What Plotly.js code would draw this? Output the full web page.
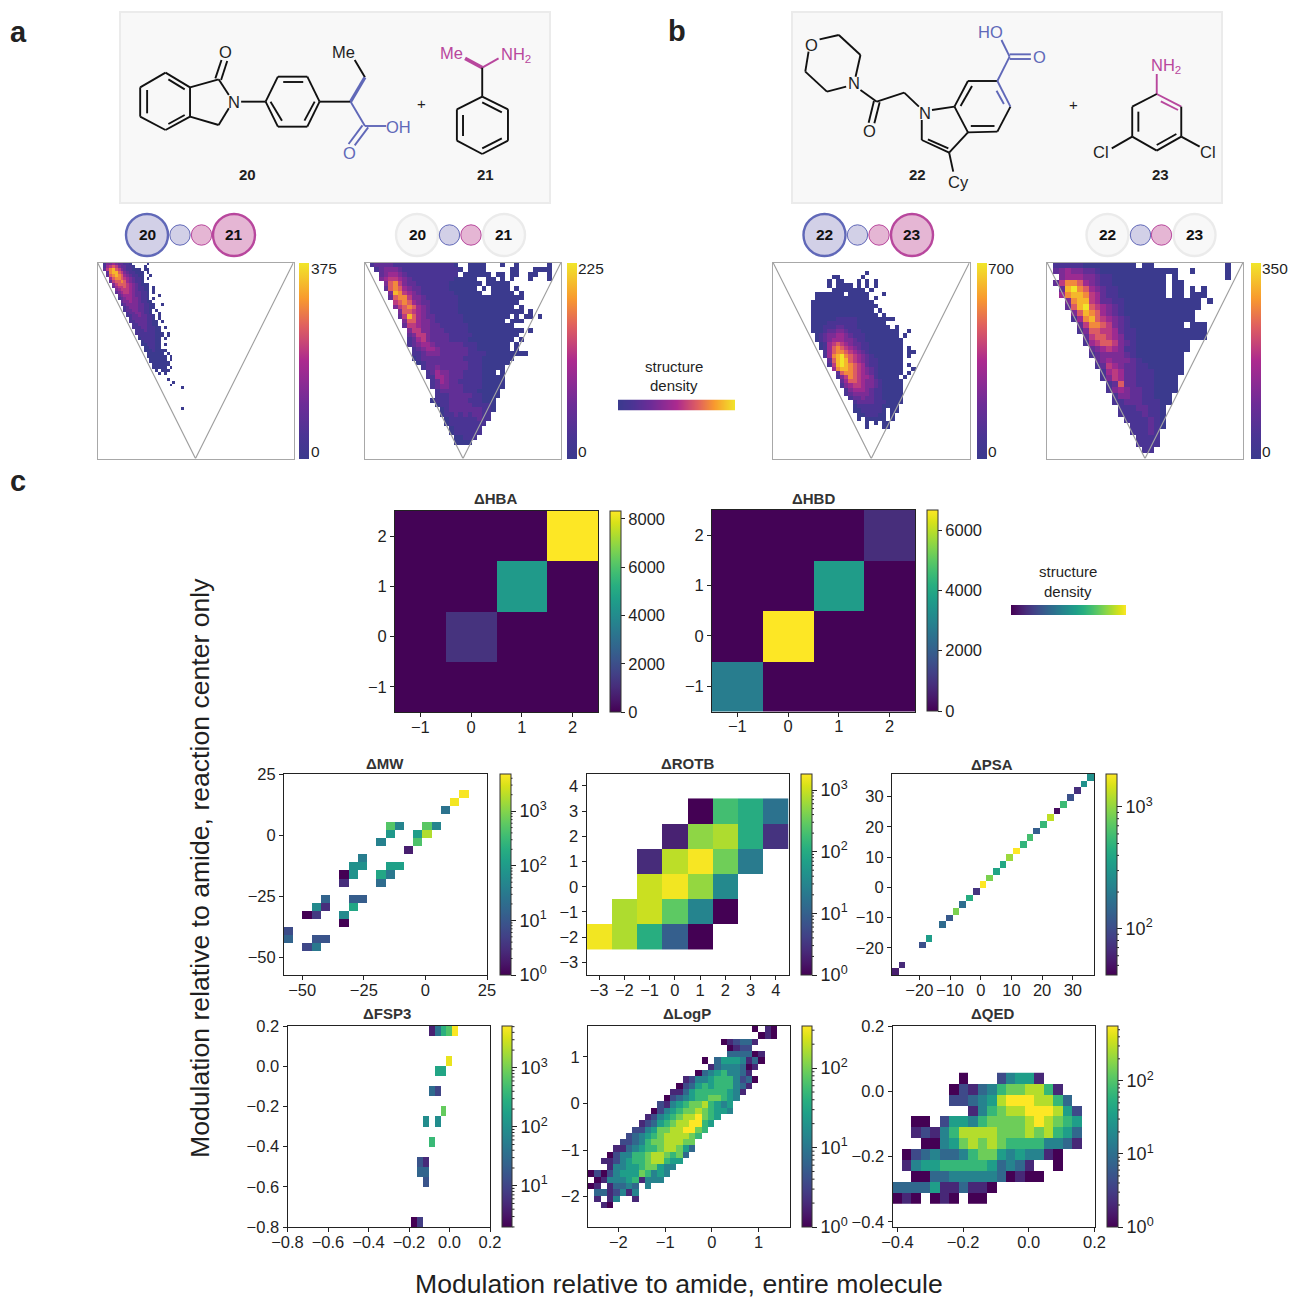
<!DOCTYPE html>
<html><head><meta charset="utf-8">
<script src="https://cdn.plot.ly/plotly-3.0.1.min.js"></script>
<style>html,body{margin:0;padding:0;background:#fff}#chart{width:1289px;height:1299px}</style>
</head><body><div id="chart"></div>
<script>
// ---------- density levels ('.' = empty bin, 0-9 = colour level), top row first
const densA1 = [
"..1334322110.....0",
"..14565322110...0",
"..2578653211000.00",
"...2788653211000.0",
"...2678764321100..0",
"....467765432110.0",
"....256676432110",
".....3566654321000",
".....2455654321100.0",
"......345554321100.0",
"......234554322110.0",
".......23444322110...0",
".......12344332110.0",
"........23343321100",
"........123333221100..0",
".........12333221100",
".........1223322110.0",
"..........122332110..0",
"..........1122322110.0",
"...........122222110.0",
"...........1122221100.0",
"............112221100",
"............1112211100.0",
".............111211100",
".............1111111000.0",
"..............111111000.0",
"..............01111100.0",
"...............0111100",
"...............0011100.0",
"................001100",
"................00010000",
".................000000.0",
".................0000000.0",
"..................000000.0",
"..................0000000",
"...................000000",
"...................00000.0",
"....................0.000",
".....................0.0",
"",
"........................0",
"..........................0",
".........................0",
".............................0",
"","","","","","",
".............................0"];
const densA2 = [
".122221111 1111111110 ..0000...0 ..0......0",
"..12333211 1111111111 0.0000.... .00...0000",
"...2344321 1111111111 .000000.00 .00..00..0",
"...3455432 1111111110 0000..00.0 .0...0...0",
"....367532 2111111100 00000.0000 0.........",
"....267643 2211111100 0000.0.000 0.0.......",
".....38754 3211111110 00000..000 00.0......",
".....26775 3321111111 0000000000 0000......",
"......5676 4322111111 0000000000 000.......",
"......3567 6432111111 0000000000 00.0......",
".......366 5432111111 0000000000 0000.0....",
".......258 6432211111 1000000000 0.0.00.0..",
"........36 6433211111 1000000000 .000......",
"........25 5433221111 1100000000 00........",
".........3 5533222111 1100000000 0000.0....",
".........2 3553222211 1110000000 000.......",
".........1 2453222211 1100000000 00.0......",
".........1 2344322222 2111000000 0.0.......",
".......... 1234432222 2211000000 0.0.......",
".......... 1123332222 2211110000 00000.....",
".......... 0122222222 2111100000 00........",
".......... .012222222 2211100000 0.........",
".......... ..12232222 2211100000 ..........",
".......... ...1243322 21111000.0 ..........",
".......... ...1144322 2111100000 ..........",
".......... ....124322 1111100000 ..........",
".......... ....123322 2111100000 ..........",
".......... .....12222 211100000. ..........",
".......... .....11122 222110000. ..........",
".......... ....011122 22111000.. ..........",
".......... .....01122 22211110.. ..........",
".......... ......0122 22222110.. ..........",
".......... ......0112 1212211... ..........",
".......... .......011 1111211... ..........",
".......... .......011 111111.... ..........",
".......... ........01 11111..... ..........",
".......... ........01 11111..... ..........",
".......... .........0 0111...... ..........",
".......... .........0 000......."];
const densB1 = ["","",
".......... .......... ..0",
".......... ....00.... .0",
".......... ...0.00... 0.0.0",
".......... ...0.0000. 0.0.0",
".......... ....000000 00.0",
".......... 0000000.00 000...0",
".......... 0000000000 000.0",
".........0 0000000000 0000",
".........0 0000000000 00000",
".........0 0000000000 0000.0",
".........0 0000000000 00000.0",
".........0 0000011111 000000000",
".........0 0001111111 0000000",
".........0 0011122111 00000000.0",
".........0 0012233211 1000000000 ..0",
".......... 0123344321 1100000000 .0",
".......... 0123444332 1100000000 0",
".......... .014565432 2110000000 0",
".......... .014676543 2110000000 0.0",
".......... ..14677654 3210000000 0.00",
".......... ..14789765 4321000000 0.0",
".......... ...2689865 4321100000 0",
".......... ...1589876 5421100000 0.0",
".......... ....478876 5432100000 0..0",
".......... .....26776 5432100000 0.0",
".......... .....13576 5443100000 .0",
".......... ......2466 5433210000 0",
".......... ......1345 5433210000 0",
".......... .......134 4432110000 0",
".......... .......123 3332110000 0",
".......... ........12 2322110000 0",
".......... .........1 2222111000 0",
".......... .........0 1111110000",
".......... .........0 0111110.00",
".......... .......... 0011100.0",
".......... .......... 0.00000.0",
".......... .......... ..0.0.00",
".......... .......... ..0...00"];
const densB2 = [
".111110000 00000.00.. .......... 0",
".234332210 0000000000 00..0..... 0",
"..34443321 1000000000 .0........ 0",
".257764321 1000000000 .00.......",
"..28976432 1100000000 .00.0.0...",
"..47887542 1100000000 .00.000...",
"...3788542 2110000000 000000.0..",
"...2689654 3210000000 000000....",
"....368764 3210000000 00000.....",
"....147865 4321000000 00000.....",
".....25776 5321000000 000.000...",
".....13665 5421100000 0000000...",
"......2566 5431100000 0000000...",
"......1456 6532100000 0000......",
".......234 5431100000 0000......",
".......123 3332100000 000.......",
"........23 4333210000 000.......",
"........12 5432211000 000.......",
".........1 4542211100 000.......",
".........1 3542211100 00........",
".......... 1262211100 00........",
".......... 1343221100 00........",
".......... .133221100 0.........",
".......... .112221110 0.........",
".......... ..11122110 ..........",
".......... ..11112110 ..........",
".......... ...1111210 ..........",
".......... ....111210 ..........",
".......... ....11121. ..........",
".......... .....1111. ..........",
".......... .....1111. ..........",
".......... ......11.. .........."];
const levelsLogP = [
".......... .......... ......0.10",
".......... .......... .......010",
".......... .......... .012331...",
".......... .......... ..0122....",
".......... .......... ..333301..",
".......... ........0. 35554130..",
".......... .........1 3444301...",
".......... .......034 564431....",
".......... .....12445 6664230...",
".......... ....023565 666431....",
".......... ...1135666 66541.....",
".......... ..02345667 7654......",
".......... .214567786 545.......",
".......... 0245677876 554.......",
".........1 2456788976 5.........",
"........12 3567889965",
".......224 577889976.",
"......2345 67888876..",
".....22346 7788877...",
"....113456 6788753...",
"...0244667 887673....",
"..11245667 88655.....",
"...1445567 7544......",
"0202455576 454.......",
".014445614 44........",
"01.13343.4",
".3312414..",
".1.14..1..",
"..10......"];
const levelsQED = [
".......0.. .24551....",
"......0213 46778861..",
"......2234 589998863.",
"........14 6788999852",
"..00.25546 7777898765",
"..12146888 8777878653",
"...0045787 8766664431",
".023433467 75454410..",
".145566666 53431..0..",
"..00334444 430100....",
"3333511311 0.........",
"010.010.00"];
// ---------- counts
const hbaCounts = [[40,40,40,40],[40,1200,40,40],[40,40,4500,40],[40,40,40,8330]];
const hbdCounts = [[2800,30,30,30],[30,6667,30,30],[30,30,3650,30],[30,30,30,850]];
const mwCol = [19,18,17,11,12,15,16,11,14,15,10,14,13,8,7,8,11,12,6,7,10,11,6,10,4,7,8,3,4,7,2,3,6,6,0,0,3,4,2,3];
const mwRow = [2,3,4,6,6,6,6,7,7,7,8,8,9,10,11,11,11,11,12,12,12,12,13,13,15,15,15,16,16,16,17,17,17,18,19,20,20,20,21,21];
const mwCount = [4500,4200,25,500,45,550,45,90,110,1800,40,450,2,35,70,70,120,120,1,75,150,30,3,20,15,12,12,55,3,150,1,4,55,1,7,15,9,9,6,30];
const rotbX = [-3,-2,-1,0,1,2,3,4];
const rotbY = [-2,-1,0,1,2,3];
const rotbCounts = [
 [1600,740,110,9.5,1,null,null,null],
 [null,740,1000,280,29,1,null,null],
 [null,null,1000,1600,550,34,null,null],
 [null,null,2.5,860,1700,350,22,null],
 [null,null,null,2,510,740,105,3],
 [null,null,null,null,1,190,105,17]];
const psaBin = [0,1,4,5,7,8,9,10,11,12,13,14,15,16,17,18,19,20,21,22,23,24,25,26,27,28,29];
const psaCount = [57,65,107,340,157,120,875,163,440,74,1860,875,380,410,1060,1860,500,600,130,530,1300,47,550,107,69,280,280];
const fspCol = [24,25,26,27,28,27,25,26,24,25,26,23,25,24,22,23,22,23,23,21,22];
const fspRow = [0,0,0,0,0,3,4,4,6,6,8,9,9,11,13,13,14,14,15,19,19];
const fspCount = [4,40,300,600,5000,4000,200,200,30,10,800,90,90,400,15,5,25,25,15,2,8];
const densityRamp = [[0,1,2,3,4,5,6]];
const plasmaScale = [[0,'#3b3a8e'],[0.12,'#4b3494'],[0.28,'#6d2c97'],[0.5,'#ac2a8f'],[0.68,'#e0605f'],[0.82,'#f89a2e'],[1,'#f1e62a']];

const W=1289,H=1299;
const px=x=>x/W, py=y=>1-y/H;
const FONT='"Liberation Sans", Arial, sans-serif', INK='#1f1f1f';
const data=[], shapes=[], annotations=[], layout={
  width:W,height:H,margin:{l:0,r:0,t:0,b:0,pad:0},paper_bgcolor:'#fff',plot_bgcolor:'#fff',
  font:{family:FONT,color:INK,size:16},showlegend:false,shapes,annotations};
let axN=0;
function addAxes(box,rx,ry,opts){
  axN++;const s=axN===1?'':String(axN);
  const base={anchor:'',showgrid:false,zeroline:false,mirror:true,showline:true,linecolor:opts.line||'#222',linewidth:1,
    ticks:opts.noTicks?'':'outside',ticklen:4,tickwidth:1,tickcolor:'#222',tickfont:{size:16.5,family:FONT,color:INK},
    fixedrange:true,automargin:false,tickmode:'array',layer:'above traces'};
  layout['xaxis'+s]=Object.assign({},base,{anchor:'y'+s,domain:[px(box[0]),px(box[1])],range:rx,tickvals:opts.xt||[],showticklabels:!opts.noTicks,tickformat:opts.xf||'',visible:!opts.hidden,ticklabelstandoff:-4});
  layout['yaxis'+s]=Object.assign({},base,{anchor:'x'+s,domain:[py(box[3]),py(box[2])],range:ry,tickvals:opts.yt||[],showticklabels:!opts.noTicks,tickformat:opts.yf||'',visible:!opts.hidden});
  return ['x'+s,'y'+s];
}
function cbar(bx,bw,top,bottom,extra){
  return Object.assign({thickness:bw,thicknessmode:'pixels',len:(bottom-top)/H,lenmode:'fraction',x:px(bx),xanchor:'left',y:py(top),yanchor:'top',
    xpad:0,ypad:0,outlinewidth:1,outlinecolor:'#333',ticks:'outside',ticklen:4,tickwidth:1,tickcolor:'#222',tickfont:{size:16.5,family:FONT,color:INK},tickmode:'array'},extra);
}
function logBar(lo,hi,bar,top,bottom){
  const v=[],t=[];
  for(let k=Math.floor(lo);k<=Math.ceil(hi);k++)for(let m=1;m<10;m++){
    const l=k+Math.log10(m); if(l<lo-1e-6||l>hi+1e-6)continue;
    if(m===1){v.push(l);t.push('10<sup>'+k+'</sup>');}
    else{const y=top+(hi-l)/(hi-lo)*(bottom-top);seg(bar[0]+bar[1],y,bar[0]+bar[1]+2.5,y,'#222',1);}
  }
  return {tickvals:v,ticktext:t,ticklen:5,tickfont:{size:18,family:FONT,color:INK}};
}
const parseRows=(rows,n)=>rows.map(r=>{const s=r.replace(/ /g,'');const a=[];for(let i=0;i<n;i++){const c=s[i];a.push(c===undefined||c==='.'?null:+c);}return a;});
function sparse(cols,rows,vals,nc,nr){
  const z=Array.from({length:nr},()=>Array(nc).fill(null));
  cols.forEach((c,i)=>{z[rows[i]][c]=vals[i];});return z;
}
const note=(x,y,text,size,color,bold,extra)=>annotations.push(Object.assign({xref:'paper',yref:'paper',x:px(x),y:py(y),xanchor:'center',yanchor:'middle',showarrow:false,borderpad:0,
  text:bold?'<b>'+text+'</b>':text,font:{size,color:color||INK,family:FONT}},extra||{}));
const seg=(x1,y1,x2,y2,c,w)=>shapes.push({type:'line',xref:'paper',yref:'paper',x0:px(x1),y0:py(y1),x1:px(x2),y1:py(y2),line:{color:c||'#111',width:w||1.6}});
const disc=(cx,cy,r,fill,line,w)=>shapes.push({type:'circle',xref:'paper',yref:'paper',x0:px(cx-r),x1:px(cx+r),y0:py(cy+r),y1:py(cy-r),fillcolor:fill,line:{color:line,width:w}});
const rect=(x0,y0,x1,y1,fill,line,w)=>shapes.push({type:'rect',xref:'paper',yref:'paper',x0:px(x0),x1:px(x1),y0:py(y1),y1:py(y0),fillcolor:fill,line:{color:line,width:w}});

// ---------- triangular density panels
function triPanel(rows,n,box,bar,zmax,label,labelX){
  const [xa,ya]=addAxes(box,[0,1],[0,1],{noTicks:true,line:'#a8a8a8'});
  const lv=parseRows(rows,n); while(lv.length<n)lv.push(Array(n).fill(null));
  const z=lv.map(r=>r.map(d=>d===null?null:d/9*zmax)).reverse();
  data.push({type:'heatmap',xaxis:xa,yaxis:ya,z,x0:0.5/n,dx:1/n,y0:0.5/n,dy:1/n,zmin:0,zmax,colorscale:plasmaScale,hoverinfo:'skip',
    colorbar:cbar(bar[0],bar[1],box[2],box[3],{outlinewidth:0,ticks:'',showticklabels:false})});
  shapes.push({type:'path',xref:xa,yref:ya,path:'M0,1 L0.5,0 L1,1',line:{color:'#a0a0a0',width:1.2},fillcolor:'rgba(0,0,0,0)'});
  note(labelX,box[2]+6,String(label),15.5,INK,false,{xanchor:'left'});
  note(labelX+0.5,box[3]-7,'0',15.5,INK,false,{xanchor:'left'});
}
triPanel(densA1,68,[97.5,293.5,262.5,458.5],[299,9.5],375,375,309.5);
triPanel(densA2,42,[365,561,262.5,458.5],[567,9.5],225,225,576.5);
triPanel(densB1,47,[773,969.5,262.5,458.5],[977,10],700,700,986.5);
triPanel(densB2,33,[1047,1243,262.5,458.5],[1251,10],350,350,1260.5);

// ---------- linear viridis panels
function linPanel(z,box,bar,zmax,ticks){
  const [xa,ya]=addAxes(box,[-1.5,2.5],[-1.5,2.5],{xt:[-1,0,1,2],yt:[-1,0,1,2]});
  data.push({type:'heatmap',xaxis:xa,yaxis:ya,z,x:[-1,0,1,2],y:[-1,0,1,2],zmin:0,zmax,colorscale:'Viridis',hoverinfo:'skip',
    colorbar:cbar(bar[0],bar[1],box[2],box[3],{tickvals:ticks,ticktext:ticks.map(String)})});
}
linPanel(hbaCounts,[395,598,511,712],[610,11],8330,[0,2000,4000,6000,8000]);
linPanel(hbdCounts,[712,915,510,711.5],[927,11],6667,[0,2000,4000,6000]);

// ---------- log viridis panels
function logPanel(z,box,bar,lo,hi,rx,ry,geom,axisOpts){
  const [xa,ya]=addAxes(box,rx,ry,axisOpts);
  const lz=z.map(r=>r.map(v=>v===null?null:Math.log10(v)));
  data.push(Object.assign({type:'heatmap',xaxis:xa,yaxis:ya,z:lz,zmin:lo,zmax:hi,colorscale:'Viridis',hoverinfo:'skip',
    colorbar:cbar(bar[0],bar[1],box[2],box[3],logBar(lo,hi,bar,box[2],box[3]))},geom));
}
const levelsToCounts=(rows,n,logMax)=>parseRows(rows,n).map(r=>r.map(d=>d===null?null:Math.pow(10,d/9*logMax)));
{ // ΔMW
  const nc=22,nr=25,dx=82.4/nc,dy=82.2/nr;
  const z=sparse(mwCol,mwRow,mwCount,nc,nr).reverse();
  logPanel(z,[284,487,774,975],[499.5,10.5],0,3.68,[-57.4,25],[-57.2,25],{x0:-57.4+dx/2,dx,y0:-57.2+dy/2,dy},{xt:[-50,-25,0,25],yt:[-50,-25,0,25]});
}
logPanel(rotbCounts,[586.5,788.5,774,975],[801,10.5],0,3.26,[-3.5,4.5],[-3.5,4.47],{x:rotbX,y:rotbY},{xt:rotbX.concat([]),yt:[-3,-2,-1,0,1,2,3,4]});
{ // ΔPSA
  const n=30,dx=65.8/n,dy=66.5/n;
  const z=sparse(psaBin,psaBin,psaCount,n,n);
  logPanel(z,[892,1094,774,975],[1106,10.5],1.62,3.27,[-28.9,36.9],[-29,37.5],{x0:-28.9+dx/2,dx,y0:-29+dy/2,dy},{xt:[-20,-10,0,10,20,30],yt:[-20,-10,0,10,20,30]});
}
{ // ΔFSP3
  const nc=35,nr=20,dx=0.029,dy=0.05;
  const z=sparse(fspCol,fspRow,fspCount,nc,nr).reverse();
  logPanel(z,[287.5,490,1026,1227],[502,10],0.3,3.71,[-0.8,0.2],[-0.8,0.2],{x0:-0.8+dx/2,dx,y0:-0.8+dy/2,dy},{xt:[-0.8,-0.6,-0.4,-0.2,0,0.2],yt:[-0.8,-0.6,-0.4,-0.2,0,0.2],xf:'.1f',yf:'.1f'});
}
{ // ΔLogP
  const n=32,dx=4.32/n,dy=4.31/n;
  const rows=levelsToCounts(levelsLogP,n,2.53); while(rows.length<n)rows.push(Array(n).fill(null));
  logPanel(rows.reverse(),[588,790,1026,1227],[802,10],0,2.53,[-2.65,1.67],[-2.65,1.66],{x0:-2.65+dx/2,dx,y0:-2.65+dy/2,dy},{xt:[-2,-1,0,1],yt:[-2,-1,0,1]});
}
{ // ΔQED
  const nc=22,dx=0.02875,dy=0.03354;
  const rows=levelsToCounts(levelsQED,nc,2.75).reverse();
  logPanel(rows,[892.5,1094.5,1026,1227],[1107,10.5],0,2.75,[-0.415,0.2],[-0.416,0.2],{x0:-0.415+dx/2,dx,y0:-0.329,dy},{xt:[-0.4,-0.2,0,0.2],yt:[-0.4,-0.2,0,0.2],xf:'.1f',yf:'.1f'});
}

// ---------- colour legends
function ramp(box,cs){
  const [xa,ya]=addAxes(box,[0,6],[-0.5,0.5],{noTicks:true,hidden:true});
  data.push({type:'heatmap',xaxis:xa,yaxis:ya,z:densityRamp,zmin:0,zmax:6,zsmooth:'best',colorscale:cs,showscale:false,hoverinfo:'skip'});
}
ramp([618,735,399.5,410.5],plasmaScale);
ramp([1011,1126,605,615],'Viridis');
note(674,366,'structure',15); note(674,386,'density',15);
note(1068,572,'structure',15); note(1068,591,'density',15);

// ---------- titles
[['ΔHBA',495,498.5],['ΔHBD',813,498.5],['ΔMW',385,763.5],['ΔROTB',687,763.5],['ΔPSA',992,764.5],['ΔFSP3',387,1013],['ΔLogP',687,1013],['ΔQED',992,1013.5]]
 .forEach(t=>note(t[1],t[2],t[0],15,'#333',true));
note(18,32,'a',29,'#222',true); note(677,31,'b',29,'#222',true); note(18,481,'c',29,'#222',true);
note(200,868,'Modulation relative to amide, reaction center only',26.6,INK,false,{textangle:-90});
note(679,1283.5,'Modulation relative to amide, entire molecule',26.6);

// ---------- reaction schemes (decorative drawings, pixel placement)
const BL='#6068b8', PK='#b8479d', BF='#d2d0e7', PF='#e5b6d4', GR='#ebebeb', GF='#f8f8f8';
rect(120,12,550,203,'#f8f8f8','#ebebeb',2);
rect(792,12,1222,203,'#f8f8f8','#ebebeb',2);
const ax=z=>z/2.447, ay=z=>z/3;
const A=(a,b,c,d,col,w)=>seg(ax(a),ay(b),ax(c),ay(d),col,w);
const B=(a,b,c,d,col,w)=>seg(650+ax(a),ay(b),650+ax(c),ay(d),col,w);
// compound 20
[[405,218,465,262],[465,262,465,350],[465,350,405,390],[405,390,343,350],[343,350,343,262],[343,262,405,218],
 [465,262,535,238],[535,238,560,285],[560,325,535,375],[535,375,465,350],
 [590,305,650,305],[650,305,680,230],[680,230,752,230],[752,230,782,305],[782,305,752,380],[752,380,680,380],[680,380,650,305],[782,305,858,305],
 [893,232,868,180],[360,270,360,340],[412,238,452,268],[412,372,452,345],[693,246,742,246],[770,305,745,362],[662,305,690,362]].forEach(s=>A(...s,'#111',1.9));
A(527,235,542,180,'#111',1.9); A(541,240,556,183,'#111',1.9);
A(858,305,893,232,BL,3.2); A(858,305,893,378,BL,1.9); A(893,378,945,378,BL,1.9);
A(887,376,853,432,BL,1.9); A(901,382,868,436,BL,1.9);
note(ax(553),ay(155),'O',16.5); note(ax(573),ay(305),'N',16.5); note(ax(840),ay(155),'Me',16.5);
note(ax(855),ay(458),'O',16.5,BL); note(ax(975),ay(382),'OH',16.5,BL);
note(ax(1032),ay(310),'+',15); note(ax(605),ay(522),'20',15,INK,true); note(ax(1187),ay(522),'21',15,INK,true);
// compound 21
A(1180,203,1138,175,PK,3.6); A(1180,203,1220,175,PK,1.9); A(1180,203,1180,290,'#111',1.9);
[[1180,290,1243,328],[1243,328,1243,422],[1243,422,1180,462],[1180,462,1118,422],[1118,422,1118,328],[1118,328,1180,290],
 [1180,307,1228,337],[1133,345,1133,408],[1180,445,1228,415]].forEach(s=>A(...s,'#111',1.9));
note(ax(1105),ay(160),'Me',16.5,PK); note(ax(1262),ay(165),'NH<sub>2</sub>',16.5,PK);
// compound 22
[[415,118,462,105],[462,105,515,165],[515,165,503,230],[480,260,433,275],[433,275,380,215],[380,215,388,155],
 [515,270,555,305],[555,305,622,278],[622,278,658,320],[690,330,745,320],[665,360,665,420],[665,420,732,458],[680,418,730,445],[732,458,778,397],[778,397,745,320],
 [745,320,778,243],[778,243,850,243],[882,320,850,395],[850,395,778,397],[760,318,788,258],[785,378,843,378],[732,458,742,515],
 [548,303,535,368],[562,307,549,370]].forEach(s=>B(...s,'#111',1.9));
B(850,243,882,320,BL,1.9); B(848,272,866,312,BL,1.9); B(850,243,880,170,BL,1.9); B(880,163,932,163,BL,1.9); B(880,177,932,177,BL,1.9); B(880,170,860,120,BL,1.9);
note(650+ax(395),ay(135),'O',16.5); note(650+ax(500),ay(250),'N',16.5); note(650+ax(537),ay(392),'O',16.5); note(650+ax(672),ay(340),'N',16.5);
note(650+ax(755),ay(547),'Cy',16.5); note(650+ax(833),ay(97),'HO',16.5,BL); note(650+ax(952),ay(172),'O',16.5,BL);
note(650+ax(1036),ay(313),'+',15); note(650+ax(655),ay(522),'22',15,INK,true); note(650+ax(1248),ay(522),'23',15,INK,true);
// compound 23
B(1240,222,1240,282,PK,1.9); B(1240,282,1300,320,PK,1.9); B(1250,304,1292,330,PK,1.9);
[[1300,320,1300,410],[1300,410,1240,452],[1240,452,1180,410],[1180,410,1180,320],[1180,320,1240,282],[1195,335,1195,395],[1240,435,1288,402],[1180,410,1130,445],[1300,410,1345,440]].forEach(s=>B(...s,'#111',1.9));
note(650+ax(1262),ay(197),'NH<sub>2</sub>',16.5,PK); note(650+ax(1103),ay(455),'Cl',16.5); note(650+ax(1366),ay(455),'Cl',16.5);
// fragment bubbles
function bubbles(xs,cy,names,active){
  disc(xs[0],cy,21,active?BF:GF,active?BL:GR,2.4);
  disc(xs[1],cy,10.2,BF,BL,1);
  disc(xs[2],cy,10.2,PF,PK,1);
  disc(xs[3],cy,21,active?PF:GF,active?PK:GR,2.4);
  note(xs[0],cy,names[0],15.5,'#111',true); note(xs[3],cy,names[1],15.5,'#111',true);
}
bubbles([147,180,201.5,234],235,['20','21'],true);
bubbles([417,449.5,471,504],235,['20','21'],false);
bubbles([824.5,857.5,879,912],235,['22','23'],true);
bubbles([1107.5,1140.5,1161.5,1194.5],235,['22','23'],false);

Plotly.newPlot('chart',data,layout,{displayModeBar:false,staticPlot:true});
</script></body></html>
